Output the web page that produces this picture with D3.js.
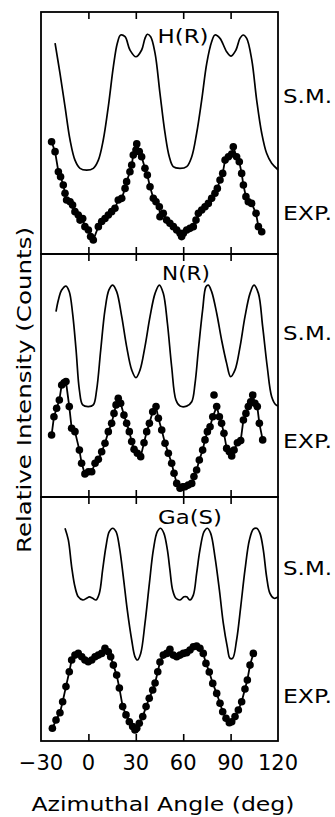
<!DOCTYPE html>
<html><head><meta charset="utf-8">
<script src="https://cdn.jsdelivr.net/npm/d3@7"></script>
<style>body{margin:0;background:#fff;} svg{display:block}</style>
</head><body><svg id="c" width="335" height="817"></svg>
<script>
// ---------------- DATA ----------------
const panelNames = ["H(R)", "N(R)", "Ga(S)"];
const seriesLabels = ["S.M.", "EXP."];
const xTickValues = [-30, 0, 30, 60, 90, 120];
const xTickLabels = ["\u221230", "0", "30", "60", "90", "120"];
const xInnerTicks = [0, 30, 60, 90];
const xTitle = "Azimuthal Angle (deg)";
const yTitle = "Relative Intensity (Counts)";

// H(R) single-scattering (S.M.) curve: [angle deg, relative intensity]
const hrSM = [[-21.1,87.1],[-18.0,74.7],[-14.8,60.9],[-11.6,47.1],[-8.5,38.8],[-5.3,35.4],[-1.1,34.7],[3.1,35.4],[6.3,38.8],[9.4,47.1],[12.6,60.9],[15.8,77.4],[18.3,87.1],[20.4,90.5],[23.2,89.8],[26.3,84.3],[30.1,81.5],[33.7,84.3],[35.8,89.1],[37.3,90.8],[39.4,89.8],[42.2,82.9],[45.3,66.4],[48.5,49.9],[51.2,40.2],[53.7,36.1],[58.0,35.4],[62.2,36.1],[65.4,40.2],[68.5,49.9],[71.7,63.6],[74.9,78.8],[78.0,87.7],[80.1,90.5],[83.3,89.1],[87.5,83.6],[90.3,81.8],[93.4,84.3],[95.9,89.1],[98.0,90.5],[100.2,89.1],[103.4,80.2],[106.5,63.6],[109.7,49.9],[112.8,41.6],[116.0,37.5],[120.2,34.7]];
// H(R) experiment
const hrEXP = [[-23.3,46.4],[-21.1,42.3],[-19.0,34.0],[-17.6,31.9],[-15.9,28.5],[-14.8,25.1],[-13.8,22.3],[-11.6,21.6],[-10.0,20.2],[-8.5,17.5],[-6.4,16.1],[-5.3,14.0],[-3.6,14.7],[-2.2,11.3],[0.0,9.9],[1.4,7.2],[3.1,5.8],[6.3,11.3],[8.4,13.4],[10.5,14.7],[12.6,16.1],[14.7,17.5],[16.8,18.9],[18.9,22.3],[21.1,23.0],[23.2,27.1],[24.2,29.9],[26.3,34.0],[27.4,36.8],[28.4,40.9],[30.1,43.0],[30.6,45.5],[32.2,42.3],[33.7,40.2],[35.8,35.4],[37.3,32.6],[39.0,27.8],[41.1,23.0],[42.8,21.6],[44.9,19.5],[45.3,15.4],[47.4,16.8],[49.5,14.0],[51.6,12.7],[53.8,11.3],[55.9,9.9],[58.0,8.6],[59.0,7.2],[60.1,8.6],[62.2,9.9],[64.3,10.6],[66.4,11.3],[68.1,14.0],[69.6,16.8],[71.7,18.2],[73.8,19.5],[75.9,20.9],[78.0,23.0],[80.1,25.1],[81.6,27.1],[83.3,30.6],[85.0,33.3],[86.5,38.8],[88.6,40.2],[90.7,41.3],[91.7,44.3],[93.8,40.2],[95.5,38.1],[97.0,33.3],[98.1,28.5],[99.7,23.7],[101.2,21.6],[103.3,20.9],[106.1,16.8],[107.6,11.3],[109.7,9.2]];

// N(R)
const nrSM = [[-20.5,76.3],[-19.0,81.1],[-16.9,85.2],[-14.2,86.8],[-12.1,84.5],[-10.0,75.6],[-7.8,60.5],[-5.7,44.0],[-3.6,37.9],[0.0,37.2],[3.1,37.9],[5.2,44.0],[7.8,60.5],[10.5,77.0],[13.0,85.2],[15.4,87.2],[17.9,84.5],[21.1,74.2],[24.2,61.9],[27.4,52.3],[30.1,49.1],[32.7,52.3],[35.8,61.9],[39.0,74.2],[42.2,83.8],[44.9,87.2],[47.4,83.8],[50.0,71.5],[52.7,53.6],[55.4,39.9],[58.0,37.4],[62.2,37.4],[65.4,39.2],[67.5,46.8],[69.6,60.5],[72.3,77.0],[74.4,86.5],[75.9,87.2],[78.0,84.5],[81.2,75.6],[84.3,64.6],[87.5,55.0],[90.0,49.5],[92.8,52.3],[96.0,61.9],[99.1,74.2],[102.3,83.8],[104.8,87.2],[107.6,83.8],[110.3,70.1],[113.2,53.6],[116.0,41.3],[118.7,37.9],[120.8,37.4]];
const nrEXP = [[-23.3,25.5],[-21.8,33.0],[-20.1,36.5],[-18.4,39.9],[-16.9,46.1],[-15.4,47.0],[-14.2,47.5],[-12.1,37.2],[-10.6,28.3],[-8.5,26.9],[-5.7,19.3],[-4.3,13.9],[-2.2,9.5],[0.0,10.4],[2.1,10.4],[4.2,13.9],[6.3,15.5],[8.4,18.6],[10.5,22.1],[12.6,26.9],[14.7,30.3],[16.2,34.4],[17.5,37.9],[18.9,40.6],[20.4,38.6],[22.5,33.7],[24.2,30.3],[25.9,26.9],[27.4,22.8],[28.9,19.6],[31.0,18.0],[33.1,16.6],[35.2,22.3],[36.9,26.9],[38.6,30.3],[40.7,35.1],[42.8,37.2],[44.3,32.4],[46.4,27.6],[48.5,22.1],[50.6,18.0],[52.7,13.9],[54.2,9.8],[55.9,5.6],[58.0,3.6],[59.7,4.2],[61.1,4.2],[63.2,4.9],[65.4,5.6],[66.8,8.4],[68.5,11.1],[70.2,15.2],[72.3,19.3],[73.8,23.5],[75.3,26.9],[77.0,28.9],[78.7,33.0],[81.2,37.2],[82.9,33.0],[84.3,30.3],[85.8,26.2],[87.5,20.0],[89.2,18.6],[90.7,16.9],[92.2,19.3],[94.3,22.3],[96.4,23.2],[98.1,31.7],[99.7,34.4],[101.2,37.2],[102.7,39.2],[104.0,42.0],[105.4,38.6],[106.9,37.2],[108.2,30.3],[110.3,23.5]];
const nrEXPextra = [[79.5,42.0]];

// Ga(S)
const gaSM = [[-14.8,87.2],[-12.7,82.4],[-10.6,71.4],[-8.5,63.2],[-6.4,59.1],[-3.6,57.8],[-1.1,58.5],[0.6,59.1],[2.7,58.5],[4.8,57.8],[6.9,60.5],[9.0,70.1],[11.1,79.6],[13.2,85.8],[15.4,87.2],[17.5,85.8],[19.6,79.6],[22.1,67.3],[24.6,53.7],[27.4,41.4],[29.5,34.5],[31.0,33.2],[33.1,35.9],[35.8,48.2],[38.6,64.6],[41.1,78.3],[43.6,85.8],[45.7,87.2],[47.8,85.1],[50.0,78.3],[51.6,70.1],[53.3,61.9],[55.4,58.5],[58.0,57.8],[60.5,59.1],[62.2,59.1],[64.3,57.8],[66.4,59.8],[68.5,68.7],[70.6,78.3],[73.2,85.8],[75.3,87.2],[77.4,85.1],[80.1,75.5],[82.9,61.9],[85.4,48.2],[87.9,38.6],[89.6,33.9],[91.3,33.9],[93.8,41.4],[96.4,55.0],[99.1,70.1],[101.9,82.4],[104.4,86.8],[106.5,87.2],[108.6,85.1],[110.7,78.3],[112.8,67.3],[114.9,60.5],[117.5,58.5],[120.2,59.1]];
const gaEXP = [[-22.8,5.2],[-20.5,8.6],[-18.0,11.6],[-16.3,16.1],[-14.2,22.3],[-12.1,28.4],[-10.6,33.2],[-8.5,35.2],[-6.4,35.9],[-4.2,34.5],[-2.2,33.2],[-0.1,32.5],[2.1,33.2],[4.2,34.5],[6.3,35.2],[8.4,35.9],[10.5,38.0],[12.6,36.6],[14.1,34.5],[15.8,31.1],[17.9,27.0],[19.6,21.7],[21.7,14.1],[23.8,10.7],[25.9,7.9],[28.0,5.9],[29.5,4.5],[30.6,5.2],[32.2,7.3],[34.4,10.0],[36.5,14.1],[38.5,17.5],[40.7,20.9],[42.2,23.8],[43.9,28.4],[45.3,32.4],[47.4,35.2],[49.6,35.9],[51.6,37.6],[53.7,35.2],[55.9,34.5],[58.0,35.2],[60.1,35.9],[62.2,36.2],[64.3,37.3],[66.4,38.6],[68.5,38.9],[70.6,38.0],[72.7,35.9],[74.4,31.8],[76.5,28.3],[78.7,23.6],[81.2,19.5],[83.3,15.5],[85.0,12.0],[87.1,9.3],[89.2,7.5],[90.7,7.9],[92.8,10.0],[94.9,12.7],[97.0,16.1],[99.1,21.3],[100.6,25.0],[102.3,31.1],[104.4,35.9]];

// ---------------- LAYOUT ----------------
const svg = d3.select("#c");
const FONT = "'DejaVu Sans', 'Liberation Sans', sans-serif";
const left = 41, right = 278;
const x = d3.scaleLinear().domain([-30, 120]).range([left, right]);

const panels = [
  {top: 12,  bottom: 254, sm: hrSM, exp: hrEXP, extra: [], title: panelNames[0], tx: 183, ty: 43, tw: 51, smY: 103, expY: 220},
  {top: 254, bottom: 497, sm: nrSM, exp: nrEXP, extra: nrEXPextra, title: panelNames[1], tx: 186, ty: 280, tw: 48, smY: 340, expY: 448},
  {top: 497, bottom: 741, sm: gaSM, exp: gaEXP, extra: [], title: panelNames[2], tx: 190, ty: 524, tw: 64, smY: 575, expY: 703}
];

const defs = svg.append("defs");

panels.forEach((p, i) => {
  const y = d3.scaleLinear().domain([0, 100]).range([p.bottom, p.top]);
  const g = svg.append("g");
  defs.append("clipPath").attr("id", "clip" + i)
    .append("rect").attr("x", left).attr("y", p.top).attr("width", right - left).attr("height", p.bottom - p.top);

  // frame
  g.append("rect").attr("x", left).attr("y", p.top).attr("width", right - left).attr("height", p.bottom - p.top)
    .attr("fill", "none").attr("stroke", "#000").attr("stroke-width", 1.8);

  // inward ticks top and bottom
  const topAxis = d3.axisBottom(x).tickValues(xInnerTicks).tickSize(7).tickFormat("");
  const botAxis = d3.axisTop(x).tickValues(xInnerTicks).tickSize(7).tickFormat("");
  const ta = g.append("g").attr("transform", `translate(0,${p.top})`).call(topAxis);
  const ba = g.append("g").attr("transform", `translate(0,${p.bottom})`).call(botAxis);
  [ta, ba].forEach(a => {
    a.select(".domain").remove();
    a.selectAll("line").attr("stroke", "#000").attr("stroke-width", 1.6);
  });

  const cg = g.append("g").attr("clip-path", `url(#clip${i})`);
  const smLine = d3.line().x(d => x(d[0])).y(d => y(d[1])).curve(d3.curveCatmullRom.alpha(0.5));
  cg.append("path").datum(p.sm).attr("d", smLine)
    .attr("fill", "none").attr("stroke", "#000").attr("stroke-width", 1.7).attr("stroke-linejoin", "round");

  const expLine = d3.line().x(d => x(d[0])).y(d => y(d[1]));
  cg.append("path").datum(p.exp).attr("d", expLine)
    .attr("fill", "none").attr("stroke", "#000").attr("stroke-width", 1.8).attr("stroke-linejoin", "round");
  cg.selectAll("circle.d").data(p.exp.concat(p.extra)).enter().append("circle")
    .attr("cx", d => x(d[0])).attr("cy", d => y(d[1])).attr("r", 3.8).attr("fill", "#000");

  // panel title
  g.append("text").attr("x", p.tx).attr("y", p.ty).attr("text-anchor", "middle")
    .attr("font-family", FONT).attr("font-size", 20)
    .attr("textLength", p.tw).attr("lengthAdjust", "spacingAndGlyphs").text(p.title);

  // series labels
  g.append("text").attr("x", 283).attr("y", p.smY).attr("font-family", FONT).attr("font-size", 20)
    .attr("textLength", 49).attr("lengthAdjust", "spacingAndGlyphs").text(seriesLabels[0]);
  g.append("text").attr("x", 283).attr("y", p.expY).attr("font-family", FONT).attr("font-size", 20)
    .attr("textLength", 49).attr("lengthAdjust", "spacingAndGlyphs").text(seriesLabels[1]);
});

// bottom tick labels
svg.append("g").selectAll("text").data(xTickValues).enter().append("text")
  .attr("x", d => x(d)).attr("y", 770).attr("text-anchor", "middle")
  .attr("font-family", FONT).attr("font-size", 21)
  .text((d, i) => xTickLabels[i]);

// axis titles
svg.append("text").attr("x", 163).attr("y", 811).attr("text-anchor", "middle")
  .attr("font-family", FONT).attr("font-size", 20)
  .attr("textLength", 263).attr("lengthAdjust", "spacingAndGlyphs").text(xTitle);
svg.append("text").attr("transform", "translate(31,390) rotate(-90)").attr("text-anchor", "middle")
  .attr("font-family", FONT).attr("font-size", 20)
  .attr("textLength", 326).attr("lengthAdjust", "spacingAndGlyphs").text(yTitle);
</script>
</body></html>
